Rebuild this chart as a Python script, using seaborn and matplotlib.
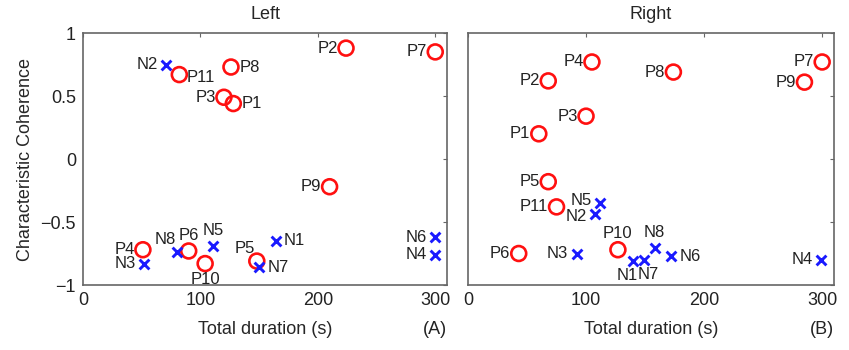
import matplotlib
matplotlib.use("Agg")
import matplotlib.pyplot as plt
import seaborn as sns
import pandas as pd

# ---- data ----
left_labels = ["P1", "P2", "P3", "P4", "P5", "P6", "P7", "P8", "P9", "P10", "P11",
               "N1", "N2", "N3", "N4", "N5", "N6", "N7", "N8"]
left_x = [128, 224, 120, 51, 148, 90, 300, 126, 210, 104, 82,
          164, 71, 52, 300, 111, 300, 150, 80]
left_y = [0.44, 0.88, 0.49, -0.72, -0.81, -0.73, 0.85, 0.73, -0.22, -0.83, 0.67,
          -0.65, 0.75, -0.83, -0.76, -0.69, -0.62, -0.86, -0.74]

right_labels = ["P1", "P2", "P3", "P4", "P5", "P6", "P7", "P8", "P9", "P10", "P11",
                "N1", "N2", "N3", "N4", "N5", "N6", "N7", "N8"]
right_x = [60, 68, 100, 105, 68, 43, 300, 174, 285, 127, 75,
           140, 108, 92, 299, 112, 172, 149, 158]
right_y = [0.20, 0.62, 0.34, 0.77, -0.18, -0.75, 0.77, 0.69, 0.61, -0.72, -0.38,
           -0.81, -0.44, -0.75, -0.80, -0.35, -0.77, -0.80, -0.71]

x_ticks = [0, 100, 200, 300]
y_ticks = [-1, -0.5, 0, 0.5, 1]
y_tick_labels = ["\u22121", "\u22120.5", "0", "0.5", "1"]

# label placement keys
L, R, A, B = "left", "right", "above", "below"
left_place = {"P1": R, "P2": L, "P3": L, "P4": L, "P5": "aboveleft", "P6": A, "P7": L,
              "P8": R, "P9": L, "P10": B, "P11": "rightlow", "N1": R, "N2": L, "N3": L,
              "N4": L, "N5": A, "N6": L, "N7": R, "N8": "aboveleft"}
right_place = {"P1": L, "P2": L, "P3": L, "P4": L, "P5": L, "P6": L, "P7": L, "P8": L,
               "P9": L, "P10": A, "P11": L, "N1": "belowleft", "N2": "leftdown", "N3": L,
               "N4": L, "N5": "leftup", "N6": R, "N7": "belowright", "N8": A}

sns.set_style("white")
plt.rcParams["font.family"] = ["Liberation Sans", "DejaVu Sans"]
plt.rcParams["axes.unicode_minus"] = True

fig = plt.figure(figsize=(8.49, 3.5), dpi=100)
ax1 = fig.add_axes([0.0978, 0.1857, 0.4287, 0.72])
ax2 = fig.add_axes([0.5512, 0.1857, 0.4311, 0.72])

offsets = {
    "left": ((-6, 0), "right", "center"),
    "right": ((6, 0), "left", "center"),
    "above": ((0, 6), "center", "bottom"),
    "below": ((0, -6), "center", "top"),
    "aboveleft": ((-1, 4), "right", "bottom"),
    "rightlow": ((5, -2), "left", "center"),
    "belowleft": ((-4, -5), "center", "top"),
    "belowright": ((3, -5), "center", "top"),
    "leftup": ((-6, 2), "right", "center"),
    "leftdown": ((-6, -1.5), "right", "center"),
}

TXT = "#222222"
FS = 13


def draw(ax, labels, xs, ys, place, title, letter, show_y):
    df = pd.DataFrame({"x": xs, "y": ys, "label": labels})
    df["group"] = df["label"].str[0]
    pos = df[df["group"] == "P"]
    neg = df[df["group"] == "N"]
    sns.scatterplot(data=pos, x="x", y="y", ax=ax, marker="o", s=115,
                    facecolors="none", edgecolor="#ff1010", linewidth=1.9, zorder=3)
    sns.scatterplot(data=neg, x="x", y="y", ax=ax, marker="x", s=50,
                    color="#1a1aff", linewidth=2.1, zorder=3)
    for _, r in df.iterrows():
        (dx, dy), ha, va = offsets[place[r["label"]]]
        ax.annotate(r["label"], (r["x"], r["y"]), xytext=(dx, dy),
                    textcoords="offset points", ha=ha, va=va, fontsize=12,
                    color=TXT)
    ax.set_xlim(0, 310)
    ax.set_ylim(-1, 1)
    ax.set_xticks(x_ticks)
    ax.set_xticklabels([str(t) for t in x_ticks], fontsize=FS)
    ax.set_yticks(y_ticks)
    if show_y:
        ax.set_yticklabels(y_tick_labels, fontsize=FS)
        ax.set_ylabel("Characteristic Coherence", fontsize=FS, labelpad=5)
    else:
        ax.set_yticklabels([])
        ax.set_ylabel("")
    ax.set_xlabel("Total duration (s)", fontsize=FS, labelpad=9)
    ax.set_title(title, fontsize=FS, pad=10)
    ax.tick_params(direction="in", length=3, top=True, right=True,
                   color="#666666", pad=5, labelcolor=TXT)
    for sp in ax.spines.values():
        sp.set_color("#666666")
        sp.set_linewidth(1.2)
    ax.text(1.0, -0.175, letter, transform=ax.transAxes, ha="right", va="center",
            fontsize=FS, color=TXT)


draw(ax1, left_labels, left_x, left_y, left_place, "Left", "(A)", True)
draw(ax2, right_labels, right_x, right_y, right_place, "Right", "(B)", False)

fig.savefig("out.png", dpi=100)
